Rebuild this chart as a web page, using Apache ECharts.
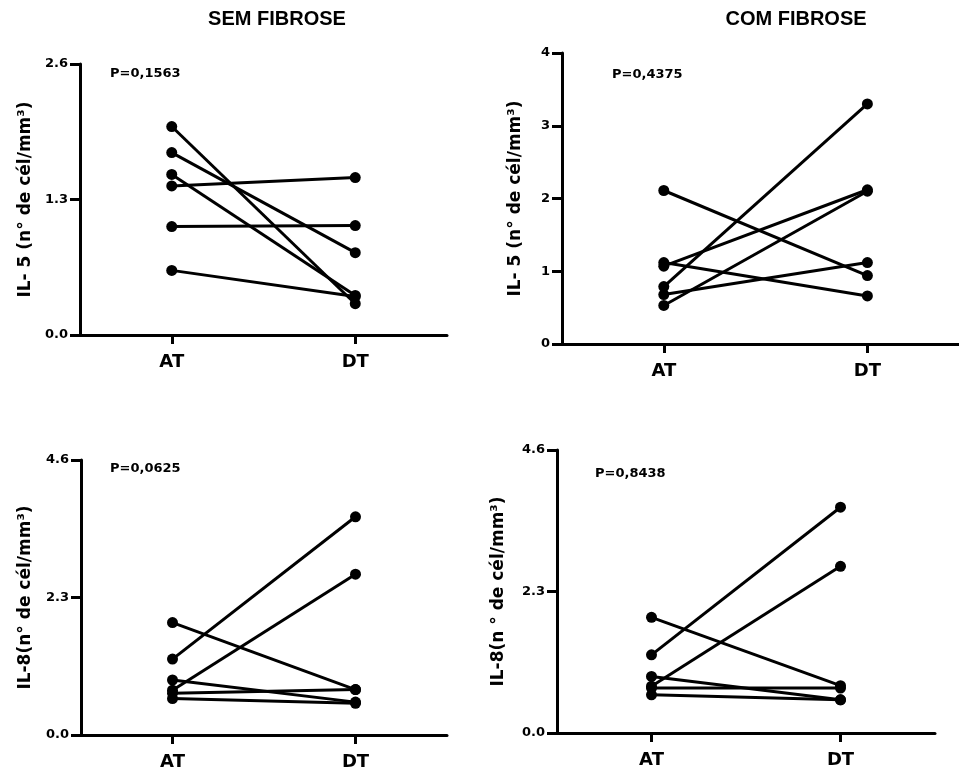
<!DOCTYPE html>
<html>
<head>
<meta charset="utf-8">
<script src="https://cdn.jsdelivr.net/npm/echarts@6/dist/echarts.min.js"></script>
<style>
  html, body { margin: 0; padding: 0; background: #fff; }
  #main { width: 959px; height: 778px; }
</style>
</head>
<body>
<div id="main"></div>
<script>
// AT / DT paired values, one entry per patient
var semIL5_AT = [2.00, 1.75, 1.54, 1.43, 1.04, 0.62];
var semIL5_DT = [0.30, 0.79, 0.38, 1.51, 1.05, 0.37];
var comIL5_AT = [2.11, 1.12, 1.07, 0.79, 0.68, 0.53];
var comIL5_DT = [0.94, 0.66, 2.12, 3.30, 1.12, 2.10];
var semIL8_AT = [1.88, 1.27, 0.92, 0.75, 0.70, 0.61];
var semIL8_DT = [0.76, 3.65, 0.55, 2.69, 0.76, 0.53];
var comIL8_AT = [1.88, 1.27, 0.92, 0.76, 0.73, 0.62];
var comIL8_DT = [0.77, 3.67, 0.54, 2.71, 0.73, 0.54];

var timeLabels = ['AT', 'DT'];
var pValues = ['P=0,1563', 'P=0,4375', 'P=0,0625', 'P=0,8438'];
var groupTitles = ['SEM FIBROSE', 'COM FIBROSE'];
var yNames = ['IL- 5 (n° de cél/mm³)', 'IL- 5 (n° de cél/mm³)', 'IL-8(n° de cél/mm³)', 'IL-8(n ° de cél/mm³)'];

var WIDE = 'DejaVu Sans';
var NARROW = 'Liberation Sans';

var panels = [
  { at: semIL5_AT, dt: semIL5_DT, max: 2.6, interval: 1.3, dec: 1, grid: { left: 80, top: 64, width: 367, height: 271 }, xmax: 2.5, gap: 46 },
  { at: comIL5_AT, dt: comIL5_DT, max: 4, interval: 1, dec: 0, grid: { left: 562, top: 53, width: 397, height: 291 }, xmax: 2.45, gap: 38 },
  { at: semIL8_AT, dt: semIL8_DT, max: 4.6, interval: 2.3, dec: 1, grid: { left: 81, top: 460, width: 366, height: 275 }, xmax: 2.5, gap: 47 },
  { at: comIL8_AT, dt: comIL8_DT, max: 4.6, interval: 2.3, dec: 1, grid: { left: 557, top: 450, width: 378, height: 283 }, xmax: 2.5, gap: 50 }
];

var grids = [], xAxes = [], yAxes = [], series = [];
panels.forEach(function (p, i) {
  grids.push(p.grid);
  xAxes.push({
    gridIndex: i, type: 'value', min: 0.5, max: p.xmax,
    splitLine: { show: false },
    axisLine: { lineStyle: { color: '#000', width: 3 } },
    axisTick: { customValues: [1, 2], length: 9, lineStyle: { color: '#000', width: 3 } },
    axisLabel: {
      customValues: [1, 2], margin: 18,
      formatter: function (v) { return timeLabels[Math.round(v) - 1]; },
      color: '#000', fontSize: 18, fontWeight: 'bold', fontFamily: WIDE
    }
  });
  yAxes.push({
    gridIndex: i, type: 'value', min: 0, max: p.max, interval: p.interval,
    name: yNames[i], nameLocation: 'middle', nameGap: p.gap,
    nameTextStyle: { color: '#000', fontSize: 17, fontWeight: 'bold', fontFamily: WIDE },
    splitLine: { show: false },
    axisLine: { show: true, lineStyle: { color: '#000', width: 3 } },
    axisTick: { length: 10, lineStyle: { color: '#000', width: 3 } },
    axisLabel: {
      margin: 12, color: '#000', fontSize: 13, fontWeight: 'bold', fontFamily: WIDE,
      formatter: function (v) { return v.toFixed(p.dec); }
    }
  });
  p.at.forEach(function (a, k) {
    series.push({
      type: 'line', xAxisIndex: i, yAxisIndex: i,
      data: [[1, a], [2, p.dt[k]]],
      symbol: 'circle', symbolSize: 11,
      lineStyle: { color: '#000', width: 3 },
      itemStyle: { color: '#000' },
      silent: true, animation: false
    });
  });
});

function pLabel(text, x, y) {
  return { text: text, left: x, top: y, padding: 0, textStyle: { color: '#000', fontSize: 13, fontWeight: 'bold', fontFamily: WIDE } };
}
function groupTitle(text, x) {
  return { text: text, left: x, top: 9, padding: 0, textAlign: 'center', textStyle: { color: '#000', fontSize: 20, fontWeight: 'bold', fontFamily: NARROW } };
}

var chart = echarts.init(document.getElementById('main'));
chart.setOption({
  backgroundColor: '#fff',
  animation: false,
  title: [
    groupTitle(groupTitles[0], 277),
    groupTitle(groupTitles[1], 796),
    pLabel(pValues[0], 110, 67),
    pLabel(pValues[1], 612, 68),
    pLabel(pValues[2], 110, 462),
    pLabel(pValues[3], 595, 467)
  ],
  grid: grids,
  xAxis: xAxes,
  yAxis: yAxes,
  series: series
});
</script>
</body>
</html>
